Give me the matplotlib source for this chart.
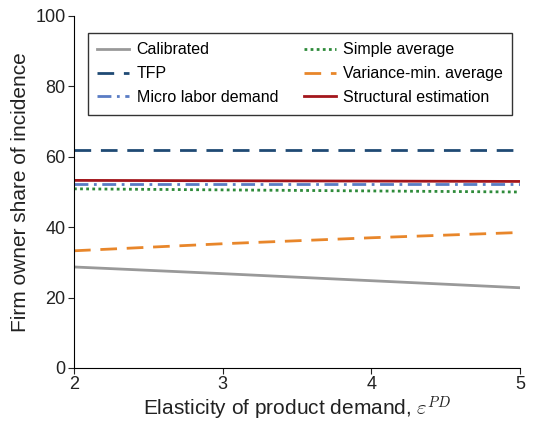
import matplotlib.pyplot as plt

plt.rcParams['font.family'] = ['Liberation Sans', 'DejaVu Sans']
plt.rcParams['mathtext.fontset'] = 'cm'

elasticity = [2, 3, 4, 5]
calibrated = [28.7, 26.8, 24.8, 22.8]
tfp = [61.8, 61.8, 61.8, 61.8]
micro_labor = [52.3, 52.3, 52.3, 52.3]
simple_avg = [50.9, 50.6, 50.3, 50.0]
variance_min = [33.3, 35.3, 37.0, 38.5]
structural = [53.3, 53.2, 53.1, 53.0]

fig = plt.figure(figsize=(5.33, 4.24), dpi=100)
ax = fig.add_axes([74 / 533, 1 - 368 / 424, 446 / 533, 352 / 424])

ax.plot(elasticity, calibrated, color='#999999', lw=2, label='Calibrated')
ax.plot(elasticity, tfp, color='#1f4a74', lw=2, dashes=(6, 3.5), label='TFP')
ax.plot(elasticity, micro_labor, color='#5a7cc4', lw=2, dashes=(5, 2, 1, 2), label='Micro labor demand')
ax.plot(elasticity, simple_avg, color='#2e8b3a', lw=2, dashes=(1, 1.2), label='Simple average')
ax.plot(elasticity, variance_min, color='#e8862a', lw=2, dashes=(6, 3.5), label='Variance-min. average')
ax.plot(elasticity, structural, color='#a3161c', lw=2, label='Structural estimation')

ax.set_xlim(2, 5)
ax.set_ylim(0, 100)
ax.set_xticks([2, 3, 4, 5])
ax.set_yticks([0, 20, 40, 60, 80, 100])
ax.spines['top'].set_visible(False)
ax.spines['right'].set_visible(False)
ax.tick_params(labelsize=13, length=4, pad=2, color='#222222', labelcolor='#222222')
ax.set_xlabel(r'Elasticity of product demand, $\varepsilon^{PD}$', fontsize=15,
              color='#222222', labelpad=1)
ax.set_ylabel('Firm owner share of incidence', fontsize=15, color='#222222', labelpad=4)

leg = ax.legend(ncol=2, loc='upper left', bbox_to_anchor=(0.031, 0.952), fontsize=11.5,
                fancybox=False, edgecolor='#333333', framealpha=1, handlelength=2.0,
                columnspacing=1.6, handletextpad=0.45, borderpad=0.6, labelspacing=0.55,
                borderaxespad=0)
leg.get_frame().set_linewidth(1)

fig.savefig('out.png', dpi=100)
